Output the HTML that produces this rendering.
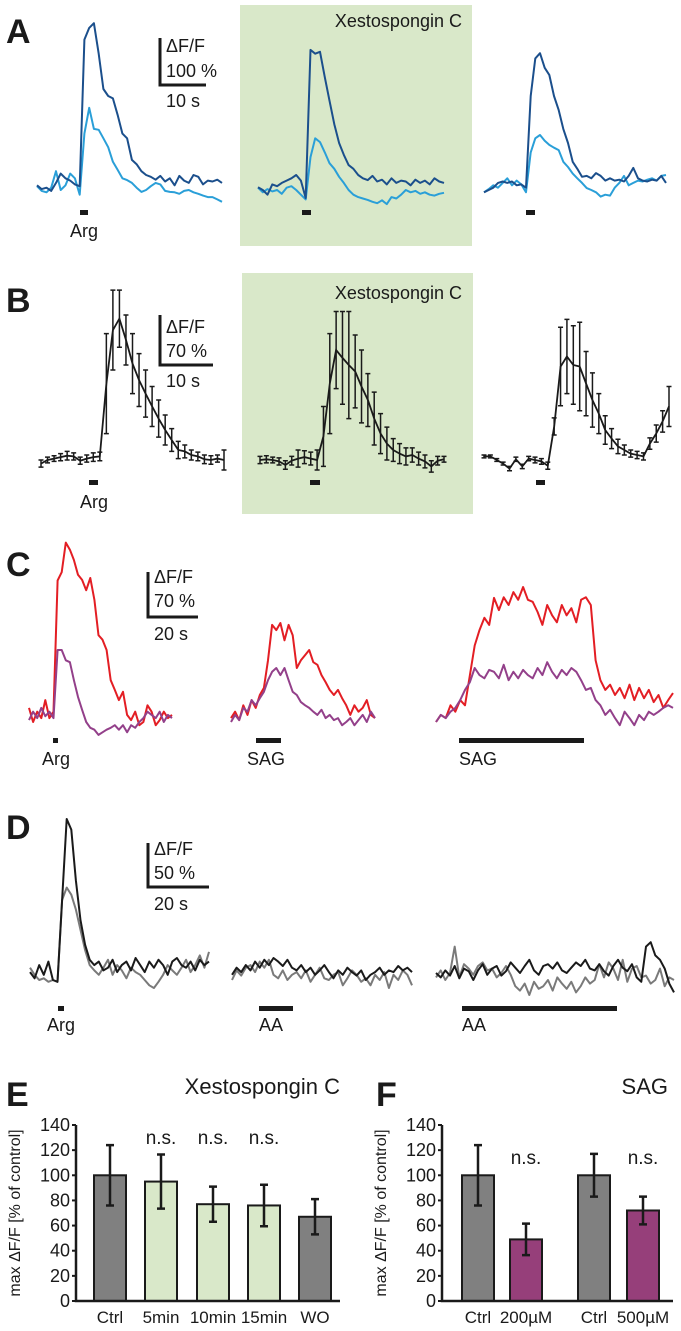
<!DOCTYPE html>
<html><head><meta charset="utf-8"><style>
html,body{margin:0;padding:0;background:#fff}
svg{display:block}
text{font-family:"Liberation Sans",Arial,sans-serif;fill:#1a1a1a}
</style></head><body>
<svg id="fig" width="681" height="1331" viewBox="0 0 681 1331" xmlns="http://www.w3.org/2000/svg">
<rect x="240" y="5" width="232" height="241" fill="#d9e8c9"/>
<rect x="242" y="273" width="231" height="241" fill="#d9e8c9"/>
<g id="static">
<text x="6" y="43" font-size="34" font-weight="bold">A</text>
<text x="6" y="312" font-size="34" font-weight="bold">B</text>
<text x="6" y="576" font-size="34" font-weight="bold">C</text>
<text x="6" y="839" font-size="34" font-weight="bold">D</text>
<text x="6" y="1106" font-size="34" font-weight="bold">E</text>
<text x="376" y="1106" font-size="34" font-weight="bold">F</text>
<text x="462" y="27" font-size="18" text-anchor="end">Xestospongin C</text>
<text x="462" y="299" font-size="18" text-anchor="end">Xestospongin C</text>
<text x="340" y="1094" font-size="22" text-anchor="end">Xestospongin C</text>
<text x="668" y="1094" font-size="22" text-anchor="end">SAG</text>
</g>
<g id="dyn"></g>
</svg>
<script>
// ---------- data ----------
const a1Dark=[10,2,5,-2,15,35,25,20,12,8,320,345,355,290,215,200,195,160,120,110,64,55,40,32,28,22,30,18,25,10,30,20,15,32,28,12,20,18,22,15];
const a1Light=[8,-2,-5,5,40,0,10,35,25,-10,120,175,130,128,110,91,60,43,25,21,15,5,-4,0,8,15,12,-2,-4,-5,-8,-2,0,-5,-8,-12,-15,-15,-20,-25];
const a2Dark=[6,0,-10,12,8,15,20,25,32,20,-17,298,290,294,240,190,140,100,75,53,45,32,25,21,30,18,22,12,25,15,20,18,10,22,15,20,12,25,18,15];
const a2Light=[5,-5,2,-3,0,-8,5,8,0,-10,-20,70,110,102,80,57,45,28,15,0,-10,-15,-18,-21,-25,-28,-22,-30,-15,-18,-10,0,-5,-2,-8,-5,-10,-12,-8,-6];
const a3Dark=[-5,0,5,15,18,15,18,10,12,5,200,280,291,260,245,200,170,130,100,60,45,28,30,25,36,30,20,25,20,22,18,30,47,25,20,18,22,20,30,15];
const a3Light=[-5,2,10,5,15,25,10,20,12,-5,80,110,117,105,96,90,85,60,49,35,25,15,4,0,-5,-14,-10,-12,5,15,30,10,15,20,18,22,25,20,30,32];

const b1Mean=[-5,0,2,4,6,5,-1,2,4,5,107,182,198,168,135,112,93,75,58,42,28,14,12,7,5,1,0,2,0];
const b1Err=[5,4,4,5,6,5,5,5,6,6,70,56,40,35,42,37,33,28,26,21,16,12,9,7,6,6,6,5,14];
const b2Mean=[0,1,0,-2,-7,-1,2,4,2,0,33,107,154,143,133,124,103,84,58,37,23,14,9,5,7,2,-2,-9,-1,1];
const b2Err=[5,5,4,5,6,6,12,9,9,14,42,70,54,65,75,51,51,37,37,28,23,16,14,12,10,9,9,8,6,4];
const b3Mean=[5,5,0,-5,-12,1,-9,2,0,-2,-8,47,131,145,133,131,107,84,65,42,30,19,14,9,7,5,23,37,54,75];
const b3Err=[2,2,2,2,3,3,3,3,4,4,5,12,55,52,55,62,45,38,28,20,14,10,7,5,5,5,8,12,15,28];

const c1Red=[22,0,16,6,34,6,16,220,233,279,268,252,229,221,205,224,190,135,128,112,65,50,34,47,11,3,16,-5,0,26,16,-5,3,16,6,11];
const c1Pur=[3,16,6,22,9,16,6,112,112,96,93,65,39,19,0,-9,-12,-20,-16,-12,-9,-5,-12,-5,-16,-5,-9,0,6,16,11,6,16,0,11,6];
const c2Red=[6,16,3,26,11,34,22,42,53,96,151,143,154,127,151,135,84,96,104,112,93,89,73,62,50,42,50,37,26,11,26,16,22,34,11,6];
const c2Pur=[0,11,3,22,16,34,26,37,47,65,78,84,73,84,65,47,42,31,26,22,16,11,19,6,11,3,6,-5,0,6,-5,3,11,0,16,6];
const c3Red=[0,11,6,26,16,34,26,73,119,143,162,151,193,174,194,182,202,190,210,190,187,171,151,182,166,155,182,166,177,155,190,194,182,96,65,50,58,42,53,37,58,34,53,37,50,31,42,22,34,45];
const c3Pur=[0,11,6,16,22,34,50,62,84,73,68,81,78,68,89,65,78,68,81,73,68,84,73,93,78,68,81,73,84,78,65,50,53,34,26,11,19,6,-5,16,6,-5,11,3,16,11,16,22,26,22];

const d1Black=[1,-6,9,-2,13,-8,-10,83,175,163,105,60,32,15,9,13,3,6,15,1,9,13,3,17,9,1,13,6,15,9,-2,13,17,9,6,13,3,15,9,13];
const d1Gray=[6,-2,-8,-6,-10,-8,-10,83,97,89,72,49,26,9,3,-2,6,15,-2,9,3,-6,6,1,-2,-8,-14,-17,-10,-2,9,3,-2,6,15,1,9,20,6,24];
const d2Black=[-2,6,1,9,3,13,6,15,9,17,13,8,15,6,3,9,1,6,-2,3,9,1,-6,3,-2,6,1,-3,3,-8,-2,1,6,-2,3,1,8,3,6,1];
const d2Gray=[-8,3,-3,6,9,1,13,6,15,-2,-6,3,-8,-2,1,-6,3,-10,-2,6,-6,-8,-2,1,-14,-6,3,-2,-10,-6,-14,-2,-8,1,-17,-2,-8,3,-2,-14];
const d3Black=[0,-5,3,-3,8,-6,5,2,-8,3,10,-2,5,8,-3,2,12,6,0,8,15,3,-2,8,10,5,12,3,0,6,12,8,15,5,3,10,2,-3,8,15,6,2,10,-5,-10,30,35,20,15,5,-12,-22];
const d3Gray=[-5,3,-8,0,30,-5,10,5,-2,8,12,3,5,-5,0,8,-2,-15,-20,-12,-25,-10,-18,-15,-8,-20,-5,-12,-18,-10,-22,-15,-5,-12,-8,10,-5,12,5,-8,15,-10,5,8,-5,-3,-12,-8,5,-15,-5,-8];

const eCats=["Ctrl","5min","10min","15min","WO"];
const eVals=[100,95,77,76,67];
const eErrs=[24,21.5,14,16.5,14];
const eSig=["","n.s.","n.s.","n.s.",""];
const fCats=["Ctrl","200µM","Ctrl","500µM"];
const fVals=[100,49,100,72];
const fErrs=[24,12.5,17,11];
const fSig=["","n.s.","","n.s."];
const yTicks=[0,20,40,60,80,100,120,140];

// ---------- drawing ----------
const NS="http://www.w3.org/2000/svg";
const dyn=document.getElementById('dyn');
function mk(tag,attrs,parent){const e=document.createElementNS(NS,tag);for(const k in attrs)e.setAttribute(k,attrs[k]);(parent||dyn).appendChild(e);return e;}
function xs(i,n,x0,x1){return x0+(x1-x0)*i/(n-1);}
function trace(vals,x0,x1,base,scale,color,name){
  const pts=vals.map((v,i)=>xs(i,vals.length,x0,x1).toFixed(1)+","+(base-v*scale).toFixed(1)).join(" ");
  const p=mk('polyline',{points:pts,fill:"none",stroke:color,"stroke-width":2,"stroke-linejoin":"round"});
  
  
}
function errTrace(mean,err,x0,x1,base,scale,name){
  const g=mk('g',{});
  
  
  mean.forEach((m,i)=>{
    const x=xs(i,mean.length,x0,x1);
    const y1=base-(m+err[i])*scale,y2=base-(m-err[i])*scale;
    const l=mk('path',{d:`M${x},${y1}V${y2}M${x-2.5},${y1}H${x+2.5}M${x-2.5},${y2}H${x+2.5}`,stroke:"#1a1a1a","stroke-width":1.5,fill:"none"},g);
    
    
  });
  const pts=mean.map((m,i)=>xs(i,mean.length,x0,x1).toFixed(1)+","+(base-m*scale).toFixed(1)).join(" ");
  const p=mk('polyline',{points:pts,fill:"none",stroke:"#1a1a1a","stroke-width":1.8},g);
  
  
}
function stim(x0,x1,y,h,name){const r=mk('rect',{x:x0,y:y,width:x1-x0,height:h,fill:"#1a1a1a"});
  
  }
function txt(s,x,y,size,name,anchor){const t=mk('text',{x:x,y:y,"font-size":size,"text-anchor":anchor||"start"});t.textContent=s;
  
  return t;}
function scaleBar(x,y0,y1,x1,l1,l2,l3,ty,name){
  const p=mk('path',{d:`M${x},${y0}V${y1}H${x1}`,stroke:"#1a1a1a","stroke-width":3,fill:"none"});
  
  
  txt(l1,x+6,ty[0],18,name+'-label');txt(l2,x+6,ty[1],18,name+'-label');txt(l3,x+6,ty[2],18,name+'-label');
}

const DB="#1b4f8c",LB="#2a9fd8",RED="#e31e24",PUR="#93408a",GR="#7a7a7a",BK="#1a1a1a";
// A
trace(a1Light,37,222,190,0.47,LB,"trace-a1-light");trace(a1Dark,37,222,190,0.47,DB,"trace-a1-dark");
trace(a2Light,258,444,190,0.47,LB,"trace-a2-light");trace(a2Dark,258,444,190,0.47,DB,"trace-a2-dark");
trace(a3Light,484,666,190,0.47,LB,"trace-a3-light");trace(a3Dark,484,666,190,0.47,DB,"trace-a3-dark");
stim(80,88,210,5,"stim-bar-a1");stim(302,311,210,5,"stim-bar-a2");stim(526,535,210,5,"stim-bar-a3");
txt("Arg",84,237,18,"arg-label-a","middle");
scaleBar(160,38,85,206,"ΔF/F","100 %","10 s",[52,77,107],"scale-bar-a");
// B
errTrace(b1Mean,b1Err,41,224,460,0.714,"trace-b1");
errTrace(b2Mean,b2Err,260,444,460,0.714,"trace-b2");
errTrace(b3Mean,b3Err,484,669,460,0.714,"trace-b3");
stim(89,98,480,5,"stim-bar-b1");stim(310,320,480,5,"stim-bar-b2");stim(536,545,480,5,"stim-bar-b3");
txt("Arg",94,508,18,"arg-label-b","middle");
scaleBar(160,315,365,213,"ΔF/F","70 %","10 s",[333,357,387],"scale-bar-b");
// C
trace(c1Red,29,172,722,0.643,RED,"trace-c1-red");trace(c1Pur,29,172,722,0.643,PUR,"trace-c1-purple");
trace(c2Red,231,375,722,0.643,RED,"trace-c2-red");trace(c2Pur,231,375,722,0.643,PUR,"trace-c2-purple");
trace(c3Red,436,673,722,0.643,RED,"trace-c3-red");trace(c3Pur,436,673,722,0.643,PUR,"trace-c3-purple");
stim(53,58,738,5,"stim-bar-c1");stim(256,281,738,5,"stim-bar-c2");stim(459,584,738,5,"stim-bar-c3");
txt("Arg",56,765,18,"arg-label-c","middle");txt("SAG",247,765,18,"sag-label-c2");txt("SAG",459,765,18,"sag-label-c3");
scaleBar(148,572,617,198,"ΔF/F","70 %","20 s",[583,607,640],"scale-bar-c");
// D
trace(d1Gray,30,209,973,0.88,GR,"trace-d1-gray");trace(d1Black,30,209,973,0.88,BK,"trace-d1-black");
trace(d2Gray,232,412,973,0.88,GR,"trace-d2-gray");trace(d2Black,232,412,973,0.88,BK,"trace-d2-black");
trace(d3Gray,436,674,973,0.88,GR,"trace-d3-gray");trace(d3Black,436,674,973,0.88,BK,"trace-d3-black");
stim(58,64,1006,5,"stim-bar-d1");stim(259,293,1006,5,"stim-bar-d2");stim(462,617,1006,5,"stim-bar-d3");
txt("Arg",61,1031,18,"arg-label-d","middle");txt("AA",259,1031,18,"aa-label-d2");txt("AA",462,1031,18,"aa-label-d3");
scaleBar(148,843,887,209,"ΔF/F","50 %","20 s",[855,879,910],"scale-bar-d");

// Bar charts
function barChart(ax,axEnd,cats,vals,errs,sig,lefts,colors,sigY,name){
  const y0=1301,k=176/140;
  const Y=v=>y0-v*k;
  const g=mk('g',{});
  
  
  yTicks.forEach(t=>{
    const l=mk('line',{x1:ax-4,x2:ax,y1:Y(t),y2:Y(t),stroke:BK,"stroke-width":2},g);
    
    
    const tx=mk('text',{x:ax-6,y:Y(t)+6,"font-size":18,"text-anchor":"end"},g);tx.textContent=t;
    
    
  });
  const yt=mk('text',{x:0,y:0,"font-size":16,"text-anchor":"middle",transform:`translate(${ax-56},${Y(70)}) rotate(-90)`},g);
  yt.textContent="max ΔF/F [% of control]";
  
  
  vals.forEach((v,i)=>{
    const x=lefts[i],w=32;
    const r=mk('rect',{x:x,y:Y(v),width:w,height:y0-Y(v),fill:colors[i],stroke:BK,"stroke-width":2},g);
    
    
    const cx=x+w/2,e1=Y(v+errs[i]),e2=Y(v-errs[i]);
    const eb=mk('path',{d:`M${cx},${e1}V${e2}M${cx-4},${e1}H${cx+4}M${cx-4},${e2}H${cx+4}`,stroke:BK,"stroke-width":2.5,fill:"none"},g);
    
    
    const lb=mk('text',{x:cx,y:1323,"font-size":17,"text-anchor":"middle"},g);lb.textContent=cats[i];
    
    
    if(sig[i]){const s=mk('text',{x:cx,y:sigY,"font-size":19,"text-anchor":"middle"},g);s.textContent=sig[i];
      
      }
  });
  const ax1=mk('path',{d:`M${ax},${Y(140)}V${y0}H${axEnd}`,stroke:BK,"stroke-width":2.5,fill:"none"},g);
  
  
}
const GRAY="#808080",LG="#d9e8c9",PB="#963f7a";
barChart(76,340,eCats,eVals,eErrs,eSig,[94,145,197,248,299],[GRAY,LG,LG,LG,GRAY],1144,"bar-chart-e");
barChart(442,673,fCats,fVals,fErrs,fSig,[462,510,578,627],[GRAY,PB,GRAY,PB],1164,"bar-chart-f");
</script>
</body></html>
